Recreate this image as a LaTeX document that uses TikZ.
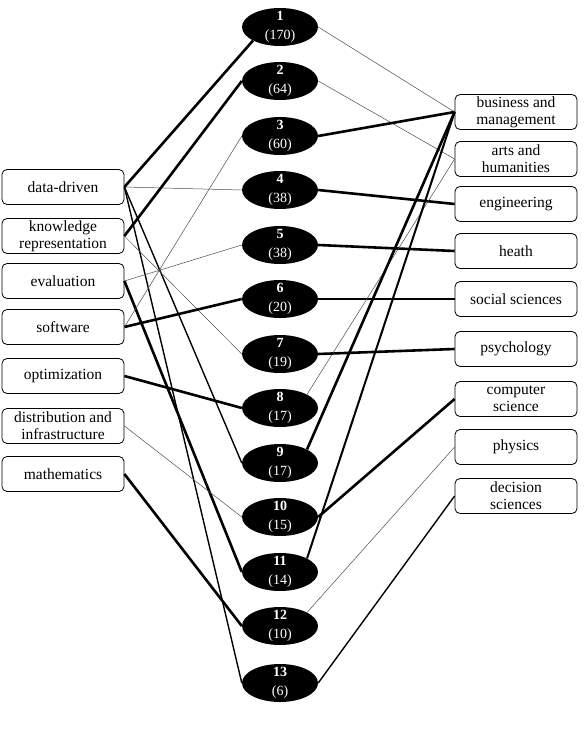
\documentclass[tikz,border=0pt]{standalone}
\usepackage{fontspec}
\setmainfont{Liberation Serif}
\usetikzlibrary{shapes.geometric}
\begin{document}
\begin{tikzpicture}[x=1pt,y=-1pt,
 box/.style={draw, rounded corners=5pt, line width=0.8pt, minimum width=122pt, minimum height=35pt, align=center, font=\fontsize{15.5}{17}\selectfont, inner sep=1pt},
 topic/.style={ellipse, fill=black, minimum width=76pt, minimum height=38pt, inner sep=0pt},
 tlabel/.style={text=white, align=center, inner sep=0pt, font=\fontsize{14}{18.5}\selectfont},
 thk/.style={line width=2.6pt},
 med/.style={line width=1.4pt},
 thn/.style={line width=0.5pt, black!70},
]
\useasboundingbox (0,0) rectangle (584,730);
% left keyword boxes
\node[box] (dd) at (63,187) {data-driven};
\node[box] (kr) at (63,236) {knowledge\\representation};
\node[box] (ev) at (63,281) {evaluation};
\node[box] (sw) at (63,327) {software};
\node[box] (op) at (63,376) {optimization};
\node[box] (di) at (63,426) {distribution and\\infrastructure};
\node[box] (ma) at (63,474) {mathematics};
% right subject boxes
\node[box] (bm) at (516,112) {business and\\management};
\node[box] (ah) at (516,159) {arts and\\humanities};
\node[box] (en) at (516,204) {engineering};
\node[box] (he) at (516,251) {heath};
\node[box] (ss) at (516,299) {social sciences};
\node[box] (ps) at (516,349) {psychology};
\node[box] (cs) at (516,399) {computer\\science};
\node[box] (ph) at (516,447) {physics};
\node[box] (ds) at (516,496) {decision\\sciences};
% topics
\foreach \i/\y in {1/27,2/81,3/136,4/190,5/245,6/299,7/354,8/408,9/463,10/517,11/572,12/626,13/683}
  \node[topic] (t\i) at (280,\y) {};
\node[tlabel] (l1) at (t1) {\textbf{1}\\(170)};
\node[tlabel] (l2) at (t2) {\textbf{2}\\(64)};
\node[tlabel] (l3) at (t3) {\textbf{3}\\(60)};
\node[tlabel] (l4) at (t4) {\textbf{4}\\(38)};
\node[tlabel] (l5) at (t5) {\textbf{5}\\(38)};
\node[tlabel] (l6) at (t6) {\textbf{6}\\(20)};
\node[tlabel] (l7) at (t7) {\textbf{7}\\(19)};
\node[tlabel] (l8) at (t8) {\textbf{8}\\(17)};
\node[tlabel] (l9) at (t9) {\textbf{9}\\(17)};
\node[tlabel] (l10) at (t10) {\textbf{10}\\(15)};
\node[tlabel] (l11) at (t11) {\textbf{11}\\(14)};
\node[tlabel] (l12) at (t12) {\textbf{12}\\(10)};
\node[tlabel] (l13) at (t13) {\textbf{13}\\(6)};
% left connections
\draw[thk] (dd.east) -- (t1.south west);
\draw[thn] (dd.east) -- (t4.west);
\draw[med] (dd.east) -- (t9.west);
\draw[med] (dd.east) -- (t13.west);
\draw[thk] (kr.east) -- (t2.west);
\draw[thn] (kr.east) -- (t7.west);
\draw[thn] (ev.east) -- (t5.west);
\draw[thk] (ev.east) -- (t11.west);
\draw[thn] (sw.east) -- (t3.west);
\draw[thk] (sw.east) -- (t6.west);
\draw[thk] (op.east) -- (t8.west);
\draw[thn] (di.east) -- (t10.west);
\draw[thk] (ma.east) -- (t12.west);
% right connections
\draw[thn] (t1.east) -- (bm.west);
\draw[thn] (t2.east) -- (ah.west);
\draw[thk] (t3.east) -- (bm.west);
\draw[thk] (t4.east) -- (en.west);
\draw[thk] (t5.east) -- (he.west);
\draw[thk] (t6.east) -- (ss.west);
\draw[thk] (t7.east) -- (ps.west);
\draw[thn] (t8.north east) -- (ah.west);
\draw[thk] (t9.north east) -- (bm.west);
\draw[thk] (t10.east) -- (cs.west);
\draw[line width=2pt] (t11.north east) -- (bm.west);
\draw[thn] (t12.north east) -- (ph.west);
\draw[med] (t13.east) -- (ds.west);
\end{tikzpicture}
\end{document}
